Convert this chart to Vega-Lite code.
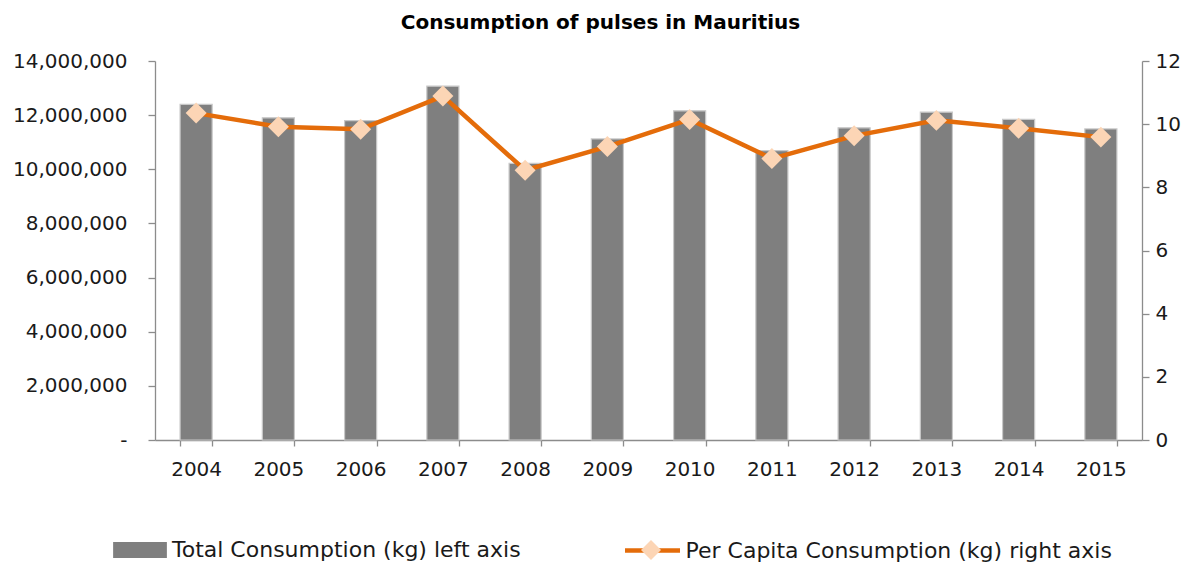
{
  "$schema": "https://vega.github.io/schema/vega-lite/v6.json",
  "width": 987,
  "height": 379,
  "autosize": {"type": "none"},
  "padding": {"left": 155, "top": 61, "right": 61, "bottom": 123},
  "background": "white",
  "config": {
    "view": {"stroke": null},
    "font": "DejaVu Sans",
    "axis": {"labelFont": "DejaVu Sans", "labelFontSize": 20, "labelColor": "#1a1a1a", "domainColor": "#8c8c8c", "tickColor": "#8c8c8c", "grid": false, "title": null, "domainWidth": 1.3, "tickWidth": 1.3, "labelOverlap": false},
    "legend": {"labelFont": "DejaVu Sans", "labelFontSize": 22, "labelColor": "#1a1a1a", "padding": 0, "title": null, "labelLimit": 600}
  },
  "title": {
    "text": "Consumption of pulses in Mauritius",
    "font": "DejaVu Sans",
    "fontSize": 20,
    "fontWeight": "bold",
    "color": "#000000",
    "anchor": "middle",
    "dx": -48,
    "offset": 18
  },
  "data": {
    "values": [
      {"year": "2004", "total": 12400000, "percap": 10.35},
      {"year": "2005", "total": 11900000, "percap": 9.92},
      {"year": "2006", "total": 11800000, "percap": 9.84},
      {"year": "2007", "total": 13070000, "percap": 10.89},
      {"year": "2008", "total": 10220000, "percap": 8.54},
      {"year": "2009", "total": 11120000, "percap": 9.29},
      {"year": "2010", "total": 12160000, "percap": 10.15},
      {"year": "2011", "total": 10690000, "percap": 8.91},
      {"year": "2012", "total": 11530000, "percap": 9.63},
      {"year": "2013", "total": 12110000, "percap": 10.12},
      {"year": "2014", "total": 11840000, "percap": 9.87},
      {"year": "2015", "total": 11490000, "percap": 9.59}
    ]
  },
  "encoding": {
    "x": {
      "field": "year",
      "type": "ordinal",
      "scale": {"paddingInner": 0.61, "paddingOuter": 0.305},
      "axis": {"labelAngle": 0, "tickBand": "extent", "tickSize": 6, "labelPadding": 13}
    }
  },
  "layer": [
    {
      "mark": {"type": "bar", "stroke": "#c8c8c8", "strokeWidth": 1.2},
      "encoding": {
        "y": {
          "field": "total",
          "type": "quantitative",
          "scale": {"domain": [0, 14000000], "nice": false},
          "axis": {"orient": "left", "values": [0, 2000000, 4000000, 6000000, 8000000, 10000000, 12000000, 14000000], "labelExpr": "datum.value == 0 ? '-' : format(datum.value, ',')", "tickSize": 7, "labelPadding": 21}
        },
        "color": {
          "datum": "Total Consumption (kg) left axis",
          "scale": {"range": ["#7f7f7f"]},
          "legend": {"orient": "none", "legendX": -31, "legendY": 473, "symbolType": "M-1.7,-0.5H1.7V0.5H-1.7Z", "symbolSize": 1000, "symbolStrokeWidth": 0, "labelOffset": 16, "symbolOpacity": 1}
        }
      }
    },
    {
      "layer": [
        {
          "mark": {"type": "line", "strokeWidth": 4.5},
          "encoding": {
            "y": {
              "field": "percap",
              "type": "quantitative",
              "scale": {"domain": [0, 12], "nice": false},
              "axis": {"orient": "right", "values": [0, 2, 4, 6, 8, 10, 12], "tickSize": 7, "labelPadding": 6}
            },
            "stroke": {
              "datum": "Per Capita Consumption (kg) right axis",
              "scale": {"range": ["#e46c0a"]},
              "legend": {"orient": "none", "legendX": 467.5, "legendY": 459.5, "symbolType": "stroke", "symbolSize": 3025, "symbolStrokeWidth": 4.5, "labelOffset": 3}
            }
          }
        },
        {
          "mark": {"type": "point", "shape": "diamond", "filled": true, "size": 440, "opacity": 1},
          "encoding": {
            "y": {"field": "percap", "type": "quantitative"},
            "fill": {
              "datum": "marker",
              "scale": {"range": ["#fcd5b5"]},
              "legend": {"orient": "none", "legendX": 485, "legendY": 478, "symbolType": "diamond", "symbolSize": 400, "symbolStrokeWidth": 0, "labelExpr": "''", "symbolOpacity": 1}
            }
          }
        }
      ]
    }
  ],
  "resolve": {"scale": {"y": "independent"}}
}
